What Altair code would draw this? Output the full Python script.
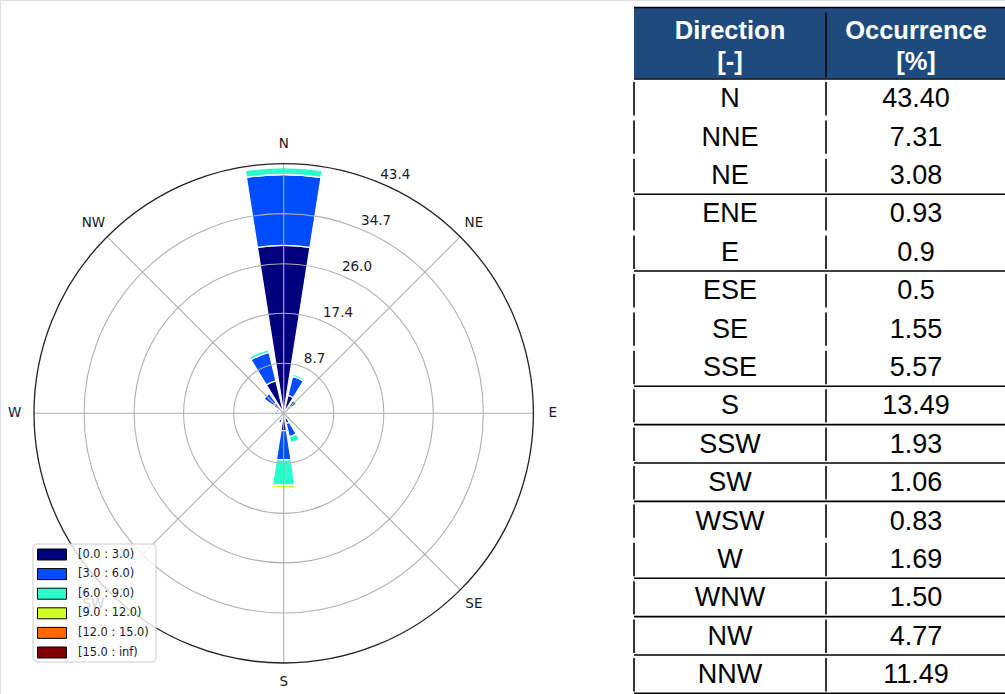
import math
import altair as alt
import pandas as pd

# ---------------- data ----------------
directions = ["N", "NNE", "NE", "ENE", "E", "ESE", "SE", "SSE",
              "S", "SSW", "SW", "WSW", "W", "WNW", "NW", "NNW"]
occurrence = ["43.40", "7.31", "3.08", "0.93", "0.9", "0.5", "1.55", "5.57",
              "13.49", "1.93", "1.06", "0.83", "1.69", "1.50", "4.77", "11.49"]

speed_bins = ["[0.0 : 3.0)", "[3.0 : 6.0)", "[6.0 : 9.0)",
              "[9.0 : 12.0)", "[12.0 : 15.0)", "[15.0 : inf)"]
bin_colors = ["#00007f", "#004cff", "#29ffce", "#ceff29", "#ff6800", "#7f0000"]

# frequency (%) per direction and speed bin, read from the rose
freq_0_3   = [29.2, 3.2, 1.6, 0.6, 0.6, 0.3, 0.9, 1.8, 3.0, 1.1, 0.7, 0.5, 1.0, 0.9, 2.2, 5.8]
freq_3_6   = [12.3, 3.4, 1.2, 0.3, 0.2, 0.1, 0.5, 2.4, 5.1, 0.6, 0.3, 0.3, 0.6, 0.5, 2.1, 5.1]
freq_6_9   = [1.2, 0.4, 0.1, 0.0, 0.0, 0.0, 0.0, 1.1, 4.4, 0.0, 0.0, 0.0, 0.0, 0.0, 0.2, 0.5]
freq_9_12  = [0.0, 0.0, 0.0, 0.0, 0.0, 0.0, 0.0, 0.0, 0.5, 0.0, 0.0, 0.0, 0.0, 0.0, 0.0, 0.0]
freq_12_15 = [0.0, 0.0, 0.0, 0.0, 0.0, 0.0, 0.0, 0.0, 0.0, 0.0, 0.0, 0.0, 0.0, 0.0, 0.0, 0.0]
freq_15_up = [0.0, 0.0, 0.0, 0.0, 0.0, 0.0, 0.0, 0.0, 0.0, 0.0, 0.0, 0.0, 0.0, 0.0, 0.0, 0.0]

ring_values = [8.7, 17.4, 26.0, 34.7, 43.4]
RMAX = 43.4
compass_labels = ["N", "NE", "E", "SE", "S", "SW", "W", "NW"]

header_line1 = ["Direction", "Occurrence"]
header_line2 = ["[-]", "[%]"]
group_breaks = [3, 5, 8, 9, 10, 11, 13, 14, 15, 16]  # rows after which a rule is drawn

# ---------------- layout ----------------
W, H = 1005, 694
CX, CY, R = 283.7, 413.3, 249.7
SECTOR = 360 / len(directions)
OPEN = SECTOR * 0.8
ROSE_FONT = "DejaVu Sans"
TAB_FONT = "Liberation Sans"
TXT = "#1a1a1a"
GRID = "#b0b0b0"

TAB_L, TAB_M, TAB_R = 634, 826, 1005
HEAD_T, HEAD_B = 7.5, 78.5
ROW0, ROW = 79.0, 38.4
COL_C = [730, 916]

freq_table = [freq_0_3, freq_3_6, freq_6_9, freq_9_12, freq_12_15, freq_15_up]

bar_rows = []
for i, d in enumerate(directions):
    base = 0.0
    for b, series in enumerate(freq_table):
        v = series[i]
        if v > 0:
            bar_rows.append({"dir": d, "t0": i * SECTOR - OPEN / 2, "t1": i * SECTOR + OPEN / 2,
                             "r0": base, "r1": base + v, "bin": speed_bins[b]})
        base += v
bars = pd.DataFrame(bar_rows)

theta_scale = alt.Scale(domain=[0, 360], range=[0, 2 * math.pi])
radius_scale = alt.Scale(type="linear", domain=[0, RMAX], range=[0, R], zero=True)
color_scale = alt.Scale(domain=speed_bins, range=bin_colors)

def px(field):
    return alt.X(field, type="quantitative", scale=None, axis=None)

def py(field):
    return alt.Y(field, type="quantitative", scale=None, axis=None)

bar_layer = alt.Chart(bars).mark_arc(x=CX, y=CY, stroke="white", strokeWidth=1.3).encode(
    theta=alt.Theta("t0:Q", scale=theta_scale, stack=None),
    theta2=alt.Theta2("t1"),
    radius=alt.Radius("r1:Q", scale=radius_scale, stack=None),
    radius2=alt.Radius2("r0"),
    color=alt.Color("bin:N", scale=color_scale, legend=None),
)

ring_df = pd.DataFrame({"r": ring_values[:-1]})
ring_layer = alt.Chart(ring_df).transform_calculate(t0="0", t1="360", z="0").mark_arc(
    x=CX, y=CY, filled=False, stroke=GRID, strokeWidth=1.1
).encode(
    theta=alt.Theta("t0:Q", scale=theta_scale, stack=None),
    theta2=alt.Theta2("t1"),
    radius=alt.Radius("r:Q", scale=radius_scale, stack=None),
    radius2=alt.Radius2("z"),
)

outer_df = pd.DataFrame({"r": [RMAX]})
outer_layer = alt.Chart(outer_df).transform_calculate(t0="0", t1="360", z="0").mark_arc(
    x=CX, y=CY, filled=False, stroke="#222222", strokeWidth=1.3
).encode(
    theta=alt.Theta("t0:Q", scale=theta_scale, stack=None),
    theta2=alt.Theta2("t1"),
    radius=alt.Radius("r:Q", scale=radius_scale, stack=None),
    radius2=alt.Radius2("z"),
)

compass_df = pd.DataFrame({"name": compass_labels,
                           "a": [k * 360 / len(compass_labels) for k in range(len(compass_labels))]})

spoke_layer = alt.Chart(compass_df).transform_calculate(
    x0=f"{CX}", y0=f"{CY}",
    x1=f"{CX} + {R} * sin(datum.a * PI / 180)",
    y1=f"{CY} - {R} * cos(datum.a * PI / 180)",
).mark_rule(color=GRID, strokeWidth=1.1).encode(
    x=px("x0"), y=py("y0"), x2=alt.X2("x1"), y2=alt.Y2("y1")
)

LAB_R = 269
compass_text = alt.Chart(compass_df).transform_calculate(
    x=f"{CX} + {LAB_R} * sin(datum.a * PI / 180)",
    y=f"{CY} - {LAB_R} * cos(datum.a * PI / 180)",
).mark_text(font=ROSE_FONT, fontSize=13.5, color=TXT, align="center", baseline="middle").encode(
    x=px("x"), y=py("y"), text="name:N"
)

ring_lab_df = pd.DataFrame({"v": ring_values, "label": [f"{v:.1f}" for v in ring_values]})
ring_text = alt.Chart(ring_lab_df).transform_calculate(
    rp=f"datum.v / {RMAX} * {R}",
).transform_calculate(
    x=f"{CX} + datum.rp * sin(22.5 * PI / 180) + 1",
    y=f"{CY} - datum.rp * cos(22.5 * PI / 180) - 1",
).mark_text(font=ROSE_FONT, fontSize=13.5, color=TXT, align="left", baseline="bottom").encode(
    x=px("x"), y=py("y"), text="label:N"
)

# legend
LEG_X0, LEG_X1, LEG_Y0, LEG_Y1 = 33, 156, 544, 662
leg_frame = alt.Chart(pd.DataFrame({"k": [0]})).transform_calculate(
    x0=f"{LEG_X0}", x1=f"{LEG_X1}", y0=f"{LEG_Y0}", y1=f"{LEG_Y1}"
).mark_rect(fill="white", fillOpacity=0.8, stroke="#cccccc", strokeWidth=1, cornerRadius=4).encode(
    x=px("x0"), x2=alt.X2("x1"), y=py("y0"), y2=alt.Y2("y1")
)
leg_df = pd.DataFrame({"bin": speed_bins, "i": list(range(len(speed_bins)))})
leg_sw = alt.Chart(leg_df).transform_calculate(
    yc="554.5 + datum.i * 19.6"
).transform_calculate(
    x0="37.5", x1="66.5", y0="datum.yc - 5.5", y1="datum.yc + 5.5"
).mark_rect(stroke="black", strokeWidth=1).encode(
    x=px("x0"), x2=alt.X2("x1"), y=py("y0"), y2=alt.Y2("y1"),
    color=alt.Color("bin:N", scale=color_scale, legend=None),
)
leg_txt = alt.Chart(leg_df).transform_calculate(
    yc="554.5 + datum.i * 19.6", x="78"
).mark_text(font=ROSE_FONT, fontSize=11.4, color=TXT, align="left", baseline="middle").encode(
    x=px("x"), y=py("yc"), text="bin:N"
)

# table
head_rect = alt.Chart(pd.DataFrame({"k": [0]})).transform_calculate(
    x0=f"{TAB_L}", x1=f"{TAB_R}", y0=f"{HEAD_T}", y1=f"{HEAD_B}"
).mark_rect(fill="#1f4a7e").encode(x=px("x0"), x2=alt.X2("x1"), y=py("y0"), y2=alt.Y2("y1"))

head_df = pd.DataFrame({"l1": header_line1, "l2": header_line2, "xc": COL_C})
head_t1 = alt.Chart(head_df).transform_calculate(y="31").mark_text(
    font=TAB_FONT, fontSize=25.5, fontWeight="bold", color="white", align="center", baseline="middle"
).encode(x=px("xc"), y=py("y"), text="l1:N")
head_t2 = alt.Chart(head_df).transform_calculate(y="62").mark_text(
    font=TAB_FONT, fontSize=25.5, fontWeight="bold", color="white", align="center", baseline="middle"
).encode(x=px("xc"), y=py("y"), text="l2:N")

body_df = pd.DataFrame({"dir": directions, "occ": occurrence, "i": list(range(len(directions)))})
body_dir = alt.Chart(body_df).transform_calculate(
    y=f"{ROW0} + (datum.i + 0.5) * {ROW} + 1", x=f"{COL_C[0]}"
).mark_text(font=TAB_FONT, fontSize=27, color="black", align="center", baseline="middle").encode(
    x=px("x"), y=py("y"), text="dir:N"
)
body_occ = alt.Chart(body_df).transform_calculate(
    y=f"{ROW0} + (datum.i + 0.5) * {ROW} + 1", x=f"{COL_C[1]}"
).mark_text(font=TAB_FONT, fontSize=27, color="black", align="center", baseline="middle").encode(
    x=px("x"), y=py("y"), text="occ:N"
)

hline_df = pd.DataFrame({"k": [0] + group_breaks})
hlines = alt.Chart(hline_df).transform_calculate(
    y=f"{ROW0} + datum.k * {ROW}", x0=f"{TAB_L}", x1=f"{TAB_R}"
).mark_rule(color="black", strokeWidth=1.6).encode(x=px("x0"), x2=alt.X2("x1"), y=py("y"))

vseg_rows = []
for i in range(len(directions)):
    for xx in (TAB_L, TAB_M):
        vseg_rows.append({"i": i, "xx": xx})
vseg_df = pd.DataFrame(vseg_rows)
vlines = alt.Chart(vseg_df).transform_calculate(
    y0=f"{ROW0} + datum.i * {ROW} + 3", y1=f"{ROW0} + (datum.i + 1) * {ROW} - 2"
).mark_rule(color="black", strokeWidth=1.6).encode(x=px("xx"), y=py("y0"), y2=alt.Y2("y1"))

head_v = alt.Chart(pd.DataFrame({"xx": [TAB_M]})).transform_calculate(
    y0=f"{HEAD_T + 5}", y1=f"{HEAD_B - 1}"
).mark_rule(color="black", strokeWidth=1.6).encode(x=px("xx"), y=py("y0"), y2=alt.Y2("y1"))

head_top = alt.Chart(pd.DataFrame({"k": [0]})).transform_calculate(
    y=f"{HEAD_T}", x0=f"{TAB_L}", x1=f"{TAB_R}"
).mark_rule(color="black", strokeWidth=1.4).encode(x=px("x0"), x2=alt.X2("x1"), y=py("y"))

chart = alt.layer(
    bar_layer, ring_layer, spoke_layer, outer_layer, compass_text, ring_text,
    leg_frame, leg_sw, leg_txt,
    head_rect, head_top, head_v, head_t1, head_t2, hlines, vlines, body_dir, body_occ,
).properties(
    width=W, height=H, padding=0, autosize="none"
).configure_view(stroke=None).configure(background="white")

chart.save("out.html", embed_options={"renderer": "svg", "actions": False})
